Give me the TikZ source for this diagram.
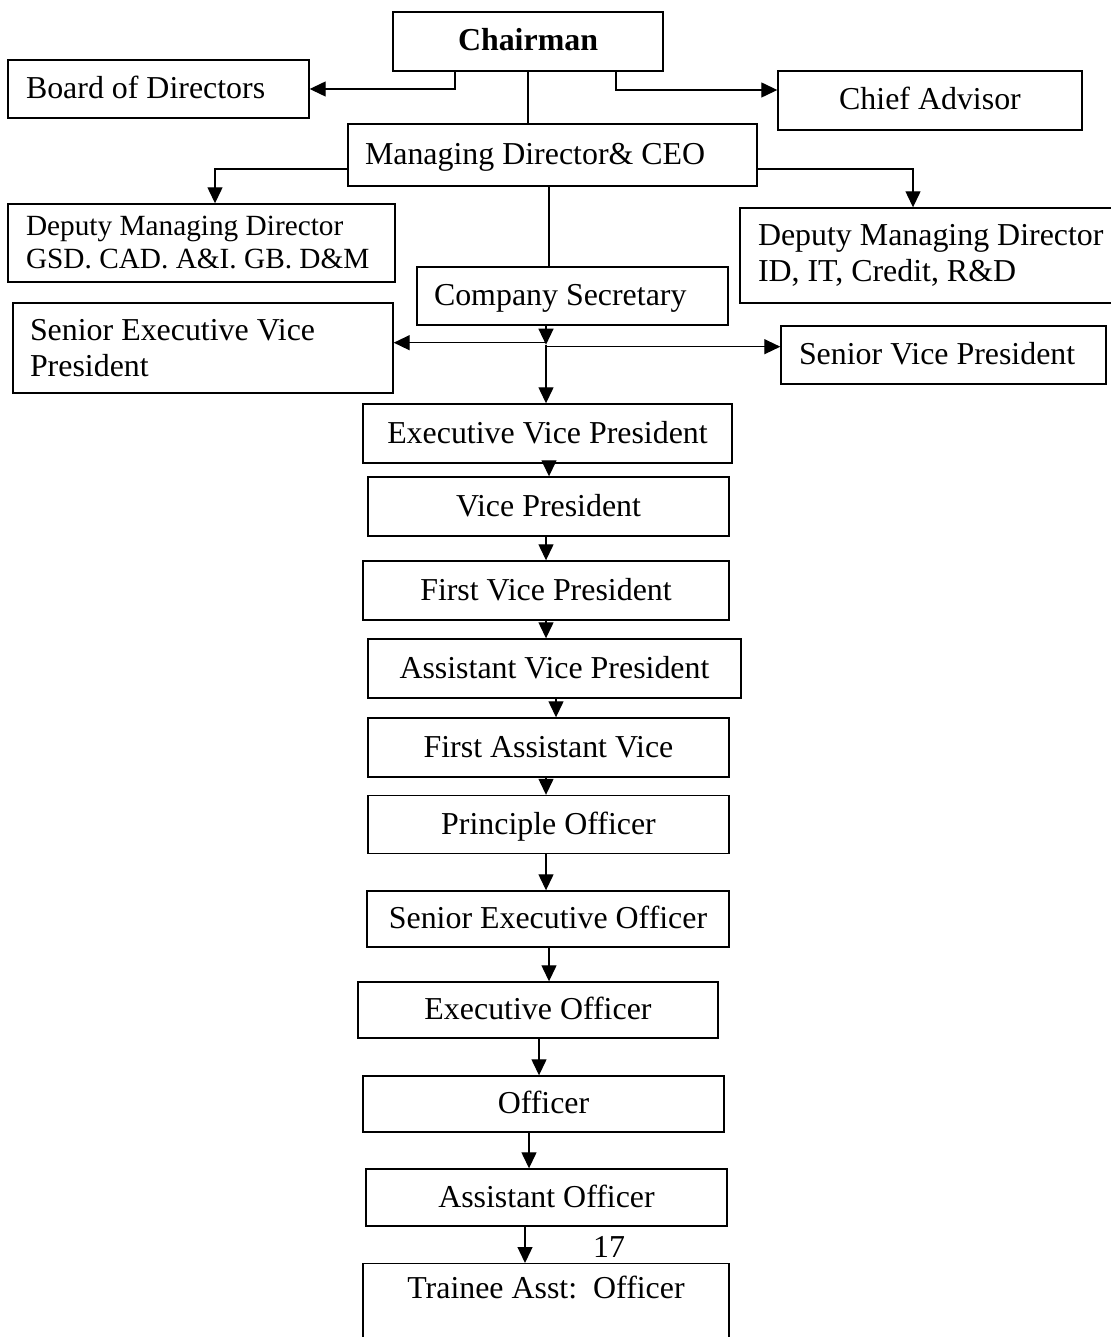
\documentclass[tikz,border=0pt]{standalone}
\usepackage{fontspec}
\setmainfont{Liberation Serif}
\usetikzlibrary{arrows.meta}
\newcommand\fsA{\fontsize{31.9}{36}\selectfont}
\newcommand\fsB{\fontsize{29.3}{33}\selectfont}
\begin{document}
\begin{tikzpicture}[x=1pt,y=-1pt,
 box/.style={draw,line width=1.4pt,inner sep=0pt,font=\fsA,text height=24pt,text depth=5pt},
 lbox/.style={draw,line width=1.4pt,inner ysep=0pt,align=flush left,font=\fsA},
 onel/.style={text height=24pt,text depth=5pt},
 arr/.style={line width=1.3pt,-{Triangle[length=16pt,width=15pt]}},
 ln/.style={line width=1.3pt}]
\useasboundingbox (0,0) rectangle (1110,1337);

\node[box,minimum width=270pt,minimum height=59pt,font=\fsA\bfseries] (chair) at (528,41.5) {Chairman};
\node[lbox,onel,minimum height=58pt,inner xsep=18pt,text width=265pt] (board) at (158.5,89) {Board of Directors};
\node[box,minimum width=304pt,minimum height=59pt] (chief) at (930,100.5) {Chief Advisor};
\node[lbox,onel,minimum height=62pt,inner xsep=17pt,text width=375pt] (md) at (552.5,155) {Managing Director\& CEO};
\node[lbox,font=\fsB,minimum height=78pt,inner xsep=18pt,text width=351pt] (dmdl) at (201.5,243) {Deputy Managing Director\\GSD. CAD. A\&I. GB. D\&M};
\node[lbox,minimum height=95pt,inner xsep=18pt,text width=364pt] (dmdr) at (940,255.5) {Deputy Managing Director\\ID, IT, Credit, R\&D};
\node[lbox,onel,minimum height=58pt,inner xsep=17pt,text width=277pt] (cs) at (572.5,296) {Company Secretary};
\node[lbox,minimum height=90pt,inner xsep=17pt,text width=346pt] (sevp) at (203,348) {Senior Executive Vice\\President};
\node[lbox,onel,minimum height=58pt,inner xsep=18pt,text width=289pt] (svp) at (943.5,355) {Senior Vice President};

\node[box,minimum width=369pt,minimum height=59pt] (evp) at (547.5,433.5) {Executive Vice President};
\node[box,minimum width=361pt,minimum height=59pt] (vp) at (548.5,506.5) {Vice President};
\node[box,minimum width=366pt,minimum height=59pt] (fvp) at (546,590.5) {First Vice President};
\node[box,minimum width=373pt,minimum height=59pt] (avp) at (554.5,668.5) {Assistant Vice President};
\node[box,minimum width=361pt,minimum height=59pt] (fav) at (548.5,747.5) {First Assistant Vice};
\node[box,minimum width=361pt,minimum height=58pt] (po) at (548.5,824.5) {Principle Officer};
\node[box,minimum width=362pt,minimum height=56pt] (seo) at (548,919) {Senior Executive Officer};
\node[box,minimum width=360pt,minimum height=56pt] (eo) at (538,1010) {Executive Officer};
\node[box,minimum width=361pt,minimum height=56pt] (off) at (543.5,1104) {Officer};
\node[box,minimum width=361pt,minimum height=57pt] (ao) at (546.5,1197.5) {Assistant Officer};
\node[box,minimum width=366pt,text height=35pt,text depth=70pt,anchor=north] (tao) at (546,1263) {Trainee Asst:\ \ Officer};
\node[font=\fsA,inner sep=0pt] (pg) at (609,1247) {17};

% top connectors
\draw[arr] ([xshift=-73pt]chair.south) |- (board.east);
\draw[arr] ([xshift=88pt]chair.south) |- ([yshift=10.5pt]chief.west);
\draw[ln] (chair.south) -- (chair.south |- md.north);
\draw[arr] ([yshift=-14pt]md.west) -| ([xshift=13.5pt]dmdl.north);
\draw[arr] ([yshift=-14pt]md.east) -| ([xshift=-27pt]dmdr.north);
\path ([xshift=-3.5pt]md.south) coordinate (m1);
\draw[ln] (m1) -- (m1 |- cs.north);

% company secretary branch
\path ([xshift=-26.5pt]cs.south) coordinate (c1);
\path ([xshift=-26.5pt,yshift=-19pt]cs.south) coordinate (j);
\path (j) ++(0,-2) coordinate (jl);
\path (j) ++(0,2) coordinate (jr);
\draw[arr] (c1) -- (j);
\draw[arr] (jl) -- (jl -| sevp.east);
\draw[arr] (jr) -- (jr -| svp.west);
\draw[arr] (j) -- (j |- evp.north);

% chain
\foreach \a/\b/\s in {evp/vp/1.5, vp/fvp/-2.5, fvp/avp/0, avp/fav/1.5, fav/po/-2.5, po/seo/-2.5, seo/eo/1, eo/off/1, off/ao/-14.5, ao/tao/-21.5}{
  \path ([xshift=\s pt]\a.south) coordinate (k);
  \draw[arr] (k) -- (k |- \b.north);
}
\end{tikzpicture}
\end{document}
